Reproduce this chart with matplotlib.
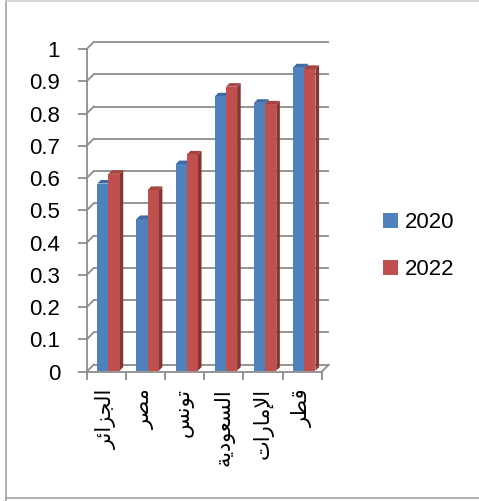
import numpy as np
import matplotlib
matplotlib.use("Agg")
import matplotlib.pyplot as plt
from matplotlib.lines import Line2D
from matplotlib.patches import Patch

plt.rcParams['font.family'] = ['Liberation Sans', 'DejaVu Sans']

# ---- data -------------------------------------------------------------
countries = ['الجزائر', 'مصر', 'تونس', 'السعودية', 'الإمارات', 'قطر']
series_names = ['2020', '2022']
values_2020 = [0.58, 0.47, 0.64, 0.85, 0.83, 0.94]
values_2022 = [0.61, 0.56, 0.67, 0.88, 0.825, 0.935]
y_ticks = [0, 0.1, 0.2, 0.3, 0.4, 0.5, 0.6, 0.7, 0.8, 0.9, 1]
y_tick_labels = ['0', '0.1', '0.2', '0.3', '0.4', '0.5', '0.6', '0.7', '0.8', '0.9', '1']

# ---- minimal Arabic shaping (contextual forms + visual order) ----------
FORMS = {  # iso, fin, ini, med
    'ا': ('\uFE8D', '\uFE8E', None, None),
    'إ': ('\uFE87', '\uFE88', None, None),
    'أ': ('\uFE83', '\uFE84', None, None),
    'د': ('\uFEA9', '\uFEAA', None, None),
    'ر': ('\uFEAD', '\uFEAE', None, None),
    'ز': ('\uFEAF', '\uFEB0', None, None),
    'و': ('\uFEED', '\uFEEE', None, None),
    'ة': ('\uFE93', '\uFE94', None, None),
    'ئ': ('\uFE89', '\uFE8A', '\uFE8B', '\uFE8C'),
    'ت': ('\uFE95', '\uFE96', '\uFE97', '\uFE98'),
    'ج': ('\uFE9D', '\uFE9E', '\uFE9F', '\uFEA0'),
    'س': ('\uFEB1', '\uFEB2', '\uFEB3', '\uFEB4'),
    'ص': ('\uFEB9', '\uFEBA', '\uFEBB', '\uFEBC'),
    'ط': ('\uFEC1', '\uFEC2', '\uFEC3', '\uFEC4'),
    'ع': ('\uFEC9', '\uFECA', '\uFECB', '\uFECC'),
    'ق': ('\uFED5', '\uFED6', '\uFED7', '\uFED8'),
    'ل': ('\uFEDD', '\uFEDE', '\uFEDF', '\uFEE0'),
    'م': ('\uFEE1', '\uFEE2', '\uFEE3', '\uFEE4'),
    'ن': ('\uFEE5', '\uFEE6', '\uFEE7', '\uFEE8'),
    'ي': ('\uFEF1', '\uFEF2', '\uFEF3', '\uFEF4'),
}
LAM_ALEF = {'ا': ('\uFEFB', '\uFEFC'), 'إ': ('\uFEF9', '\uFEFA'), 'أ': ('\uFEF7', '\uFEF8')}


def dual(c):
    return c in FORMS and FORMS[c][2] is not None


def shape(word):
    out = []
    i, n = 0, len(word)
    while i < n:
        c = word[i]
        prev_join = i > 0 and dual(word[i - 1])
        if c == 'ل' and i + 1 < n and word[i + 1] in LAM_ALEF:
            iso, fin = LAM_ALEF[word[i + 1]]
            out.append(fin if prev_join else iso)
            i += 2
            continue
        iso, fin, ini, med = FORMS[c]
        next_join = ini is not None and i + 1 < n and word[i + 1] in FORMS
        if prev_join and next_join:
            out.append(med)
        elif prev_join:
            out.append(fin)
        elif next_join:
            out.append(ini)
        else:
            out.append(iso)
        i += 1
    return ''.join(reversed(out))


# ---- figure / axes (front plane of the 3-D box) ------------------------
W, H = 479, 501
fig = plt.figure(figsize=(W / 100, H / 100), dpi=100)
x0_px, y0_px, w_px, h_px = 86.7, 371.7, 235.0, 322.7
ax = fig.add_axes([x0_px / W, (H - y0_px) / H, w_px / W, h_px / H])
n = len(countries)
ax.set_xlim(0, n)
ax.set_ylim(0, 1)
ax.patch.set_visible(False)

px_x = w_px / n
px_y = h_px


def dx(p):
    return p / px_x


def dy(p):
    return p / px_y


grid_c = '#8c8c8c'
grid_lw = 1.3
wall_depth = 7.0

# back wall gridlines and side-wall diagonals
for v in y_ticks:
    ax.plot([dx(wall_depth), n + dx(wall_depth)], [v + dy(wall_depth)] * 2,
            color=grid_c, lw=grid_lw, zorder=1, clip_on=False, solid_capstyle='butt')
    ax.plot([0, dx(wall_depth)], [v, v + dy(wall_depth)],
            color=grid_c, lw=grid_lw, zorder=1, clip_on=False)
# floor right edge
ax.plot([n, n + dx(wall_depth)], [0, dy(wall_depth)],
        color=grid_c, lw=grid_lw, zorder=1, clip_on=False)

# ---- bars -------------------------------------------------------------
colors = {
    '2020': ('#4f81bd', '#3f6aa2', '#365b88'),  # front, top, side
    '2022': ('#c0504d', '#a64441', '#853633'),
}
bar_w = 0.285
bar_off = 0.245
front = 1.0   # px behind the front plane
depth = 3.6   # bar depth in px

for i in range(n):
    for k, (name, vals) in enumerate(zip(series_names, [values_2020, values_2022])):
        v = vals[i]
        fc, tc, sc = colors[name]
        xl = i + bar_off + k * bar_w + dx(front)
        xr = xl + bar_w
        b = dy(front)
        # side face
        ax.fill([xr, xr, xr + dx(depth), xr + dx(depth)],
                [b, b + v, b + v + dy(depth), b + dy(depth)],
                color=sc, lw=0, zorder=3)
        # top face
        ax.fill([xl, xr, xr + dx(depth), xl + dx(depth)],
                [b + v, b + v, b + v + dy(depth), b + v + dy(depth)],
                color=tc, lw=0, zorder=3)
        # front face
        ax.bar(xl, v, width=bar_w, bottom=b, align='edge', color=fc, lw=0, zorder=3)

# ---- axes, ticks, labels ---------------------------------------------
for s in ['top', 'right']:
    ax.spines[s].set_visible(False)
for s in ['left', 'bottom']:
    ax.spines[s].set_color(grid_c)
    ax.spines[s].set_linewidth(grid_lw)
    ax.spines[s].set_zorder(2)

ax.set_yticks(y_ticks, labels=y_tick_labels)
ax.tick_params(axis='y', length=6.2, width=grid_lw, color=grid_c, pad=13.0,
               labelsize=16, labelcolor='black')

ax.set_xticks(np.arange(n + 1))
ax.set_xticklabels([])
ax.tick_params(axis='x', which='major', length=6.0, width=grid_lw, color=grid_c)
ax.set_xticks(np.arange(n) + 0.5, labels=[shape(c) for c in countries], minor=True)
ax.tick_params(axis='x', which='minor', length=0, pad=12, labelsize=15,
               labelrotation=90, labelcolor='black')
for t in ax.get_xticklabels(minor=True):
    t.set_va('top')

# ---- legend -----------------------------------------------------------
handles = [Patch(facecolor=colors[s][0], edgecolor='none') for s in series_names]
fig.legend(handles, series_names, loc='upper left',
           bbox_to_anchor=(382.7 / W, 1 - 212.5 / H), frameon=False,
           fontsize=16, handlelength=0.7, handleheight=0.68,
           handletextpad=0.28, labelspacing=1.15, borderpad=0, borderaxespad=0)

# ---- chart border ------------------------------------------------------
bc = '#a0a0a0'
fig.add_artist(Line2D([5.5 / W, 5.5 / W], [0, 1], color=bc, lw=1.2))
fig.add_artist(Line2D([5.5 / W, 1], [1 - 0.6 / H] * 2, color='#d0d0d0', lw=1.2))
fig.add_artist(Line2D([5.5 / W, 1], [1 - 497.8 / H] * 2, color=bc, lw=1.2))

fig.savefig('out.png', dpi=100)
